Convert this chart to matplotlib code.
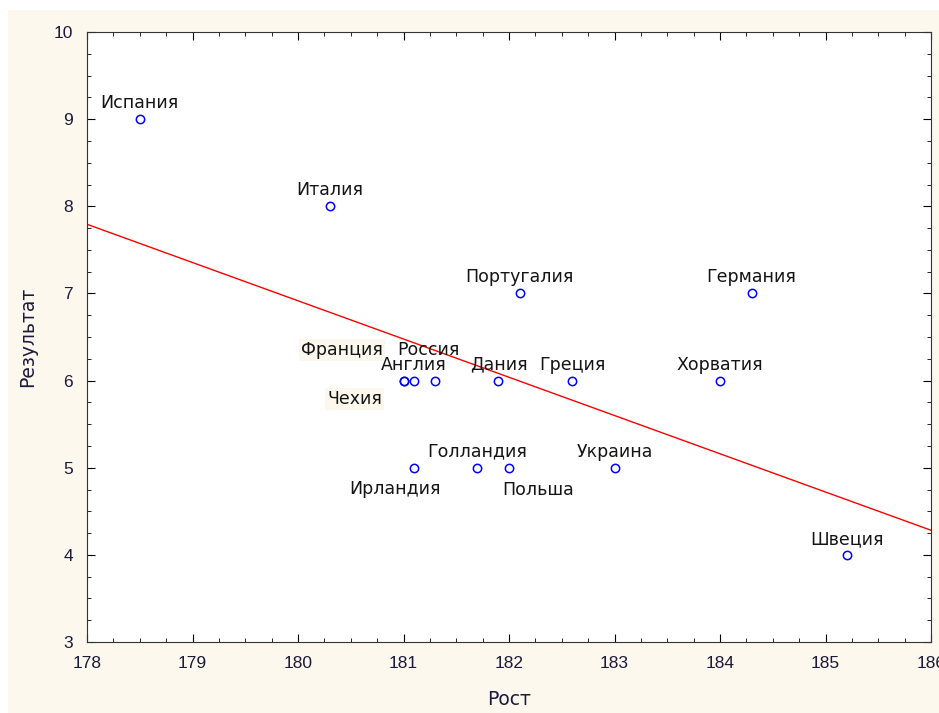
import numpy as np
import matplotlib.pyplot as plt
from matplotlib.ticker import MultipleLocator
from matplotlib.patches import Rectangle

plt.rcParams['font.family'] = ['DejaVu Sans']

countries = ['Испания', 'Италия', 'Португалия', 'Германия', 'Хорватия', 'Греция',
             'Дания', 'Франция', 'Англия', 'Чехия', 'Россия', 'Ирландия',
             'Голландия', 'Польша', 'Украина', 'Швеция']
height = [178.5, 180.3, 182.1, 184.3, 184.0, 182.6,
          181.9, 181.0, 181.1, 181.0, 181.3, 181.1,
          181.7, 182.0, 183.0, 185.2]
result = [9, 8, 7, 7, 6, 6,
          6, 6, 6, 6, 6, 5,
          5, 5, 5, 4]

# label offsets in points (dx, dy); default is centred just above the point
offsets = {'Франция': (-44, 22), 'Чехия': (-35, -13), 'Россия': (-5, 22),
           'Ирландия': (-14, -15), 'Польша': (21, -16)}
boxed = ['Франция', 'Чехия']
cream = '#fdf8ee'

fig = plt.figure(figsize=(9.39, 7.13), dpi=100)
fig.patches.append(Rectangle((8/939, 0), 1, 1 - 10/713, transform=fig.transFigure,
                             facecolor=cream, edgecolor='none', zorder=-10))
ax = fig.add_axes([87/939, 1 - 642/713, 844/939, 610/713])

# linear fit
coef = np.polyfit(height, result, 1)
xx = np.array([178, 186])
ax.plot(xx, np.polyval(coef, xx), color='red', lw=1)

ax.plot(height, result, 'o', mfc='none', mec='blue', ms=6, mew=1.1)

for name, x, y in zip(countries, height, result):
    dx, dy = offsets.get(name, (0, 11.5))
    kw = {}
    if name in boxed:
        kw['bbox'] = dict(facecolor=cream, edgecolor='none', pad=1.5)
    ax.annotate(name, (x, y), xytext=(dx, dy), textcoords='offset points',
                ha='center', va='center', fontsize=12.5, color='#141414', **kw)

ax.set_xlim(178, 186)
ax.set_ylim(3, 10)
ax.xaxis.set_major_locator(MultipleLocator(1))
ax.xaxis.set_minor_locator(MultipleLocator(0.25))
ax.yaxis.set_major_locator(MultipleLocator(1))
ax.yaxis.set_minor_locator(MultipleLocator(0.25))
ax.tick_params(which='both', direction='in', top=True, right=True)
ax.tick_params(which='major', length=6, pad=10)
ax.tick_params(which='minor', length=3)
for lab in ax.get_xticklabels() + ax.get_yticklabels():
    lab.set_fontfamily('Liberation Sans')
    lab.set_fontsize(12.5)
    lab.set_color('#1a1a3a')
for s in ax.spines.values():
    s.set_color('#333333')
ax.set_xlabel('Рост', fontsize=13.5, labelpad=14, color='#1a1a3a')
ax.set_ylabel('Результат', fontsize=13.5, labelpad=12, color='#1a1a3a')

fig.savefig('out.png', dpi=100)
